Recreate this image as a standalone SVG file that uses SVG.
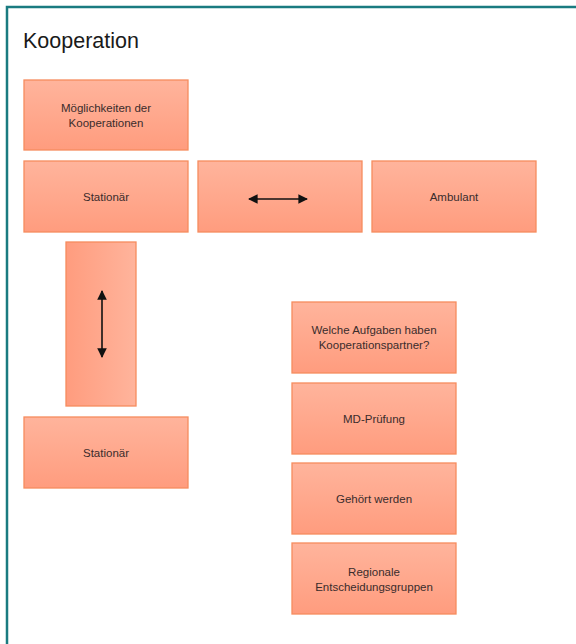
<svg xmlns="http://www.w3.org/2000/svg" width="576" height="644" viewBox="0 0 576 644">
<defs>
<linearGradient id="gv" x1="0" y1="0" x2="0" y2="1">
<stop offset="0" stop-color="#ffb49c"/>
<stop offset="1" stop-color="#ff9c7e"/>
</linearGradient>
<linearGradient id="gh" x1="0" y1="0" x2="1" y2="0">
<stop offset="0" stop-color="#ff9c7e"/>
<stop offset="1" stop-color="#ffb49c"/>
</linearGradient>
<marker id="ah" viewBox="0 0 10 10" refX="9" refY="5" markerWidth="6" markerHeight="6" orient="auto-start-reverse">
<path d="M0,0 L10,5 L0,10 z" fill="#111"/>
</marker>
<style>
.box{fill:url(#gv);stroke:#f68c5e;stroke-width:1.3}
.boxh{fill:url(#gh);stroke:#f68c5e;stroke-width:1.3}
.t{font-family:"Liberation Sans",Arial,sans-serif;font-size:11.5px;fill:#3a2c2c;text-anchor:middle}
.title{font-family:"Liberation Sans",Arial,sans-serif;font-size:21.5px;fill:#1a1a1a}
.arr{stroke:#111;stroke-width:1.6;fill:none;marker-start:url(#ah);marker-end:url(#ah)}
</style>
</defs>
<rect width="576" height="644" fill="#fff"/>
<rect x="7" y="7" width="600" height="700" fill="none" stroke="#1a7b80" stroke-width="2.5"/>
<text class="title" x="23" y="48">Kooperation</text>
<g id="moeglichkeiten">
<rect class="box" x="24" y="80" width="164" height="70"/>
<text class="t" x="106" y="112">Möglichkeiten der</text>
<text class="t" x="106" y="127">Kooperationen</text>
</g>
<g id="stationaer1">
<rect class="box" x="24" y="161" width="164" height="71"/>
<text class="t" x="106" y="201">Stationär</text>
</g>
<g id="pfeilbox-h">
<rect class="box" x="198" y="161" width="164" height="71"/>
</g>
<g id="ambulant">
<rect class="box" x="372" y="161" width="164" height="71"/>
<text class="t" x="454" y="201">Ambulant</text>
</g>
<g id="pfeilbox-v">
<rect class="boxh" x="66" y="242" width="70" height="164"/>
</g>
<g id="stationaer2">
<rect class="box" x="24" y="417" width="164" height="71"/>
<text class="t" x="106" y="457">Stationär</text>
</g>
<g id="aufgaben">
<rect class="box" x="292" y="302" width="164" height="71"/>
<text class="t" x="374" y="334">Welche Aufgaben haben</text>
<text class="t" x="374" y="349">Kooperationspartner?</text>
</g>
<g id="md">
<rect class="box" x="292" y="383" width="164" height="71"/>
<text class="t" x="374" y="423">MD-Prüfung</text>
</g>
<g id="gehoert">
<rect class="box" x="292" y="463" width="164" height="71"/>
<text class="t" x="374" y="503">Gehört werden</text>
</g>
<g id="regionale">
<rect class="box" x="292" y="543" width="164" height="71"/>
<text class="t" x="374" y="576">Regionale</text>
<text class="t" x="374" y="591">Entscheidungsgruppen</text>
</g>
<g id="connectors">
<line class="arr" x1="249" y1="199" x2="307" y2="199"/>
<line class="arr" x1="102" y1="291" x2="102" y2="357"/>
</g>
</svg>
